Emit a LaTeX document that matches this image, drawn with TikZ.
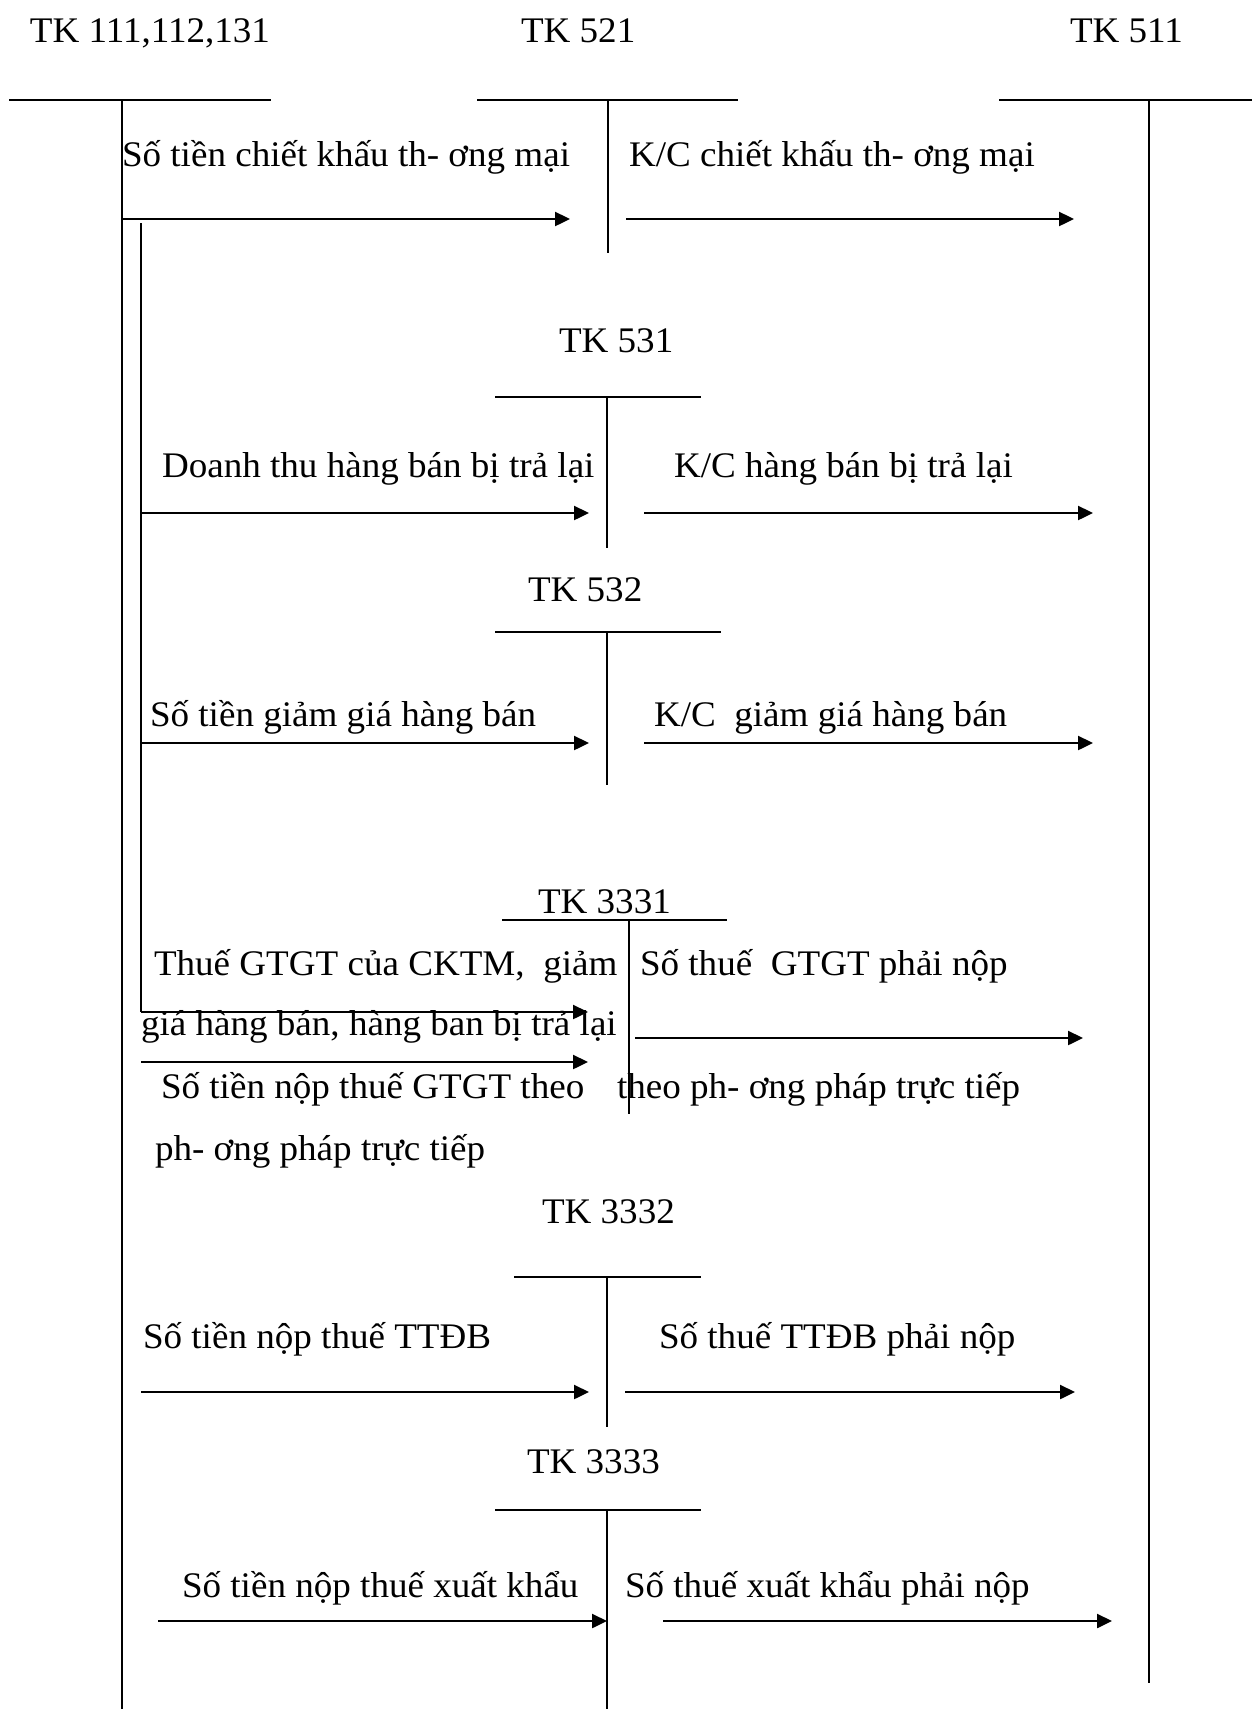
\documentclass[tikz,border=0pt]{standalone}
\usepackage{fontspec}
\setmainfont[FakeStretch=1.03]{Liberation Serif}
\usetikzlibrary{arrows.meta}
\tikzset{
  lbl/.style={anchor=base west, inner sep=0pt, outer sep=0pt, font=\fontsize{36}{40}\selectfont},
  tline/.style={line width=2pt},
  flow/.style={line width=2.4pt, -{Triangle[length=15pt,width=14pt]}}
}
\begin{document}
\begin{tikzpicture}[x=1pt,y=-1pt]
\useasboundingbox (0,0) rectangle (1252,1709);
% titles
\node[lbl] (t111) at (30,42) {TK 111,112,131};
\node[lbl] (t521) at (521,42) {TK 521};
\node[lbl] (t511) at (1070,42) {TK 511};
\node[lbl] (t531) at (559,352) {TK 531};
\node[lbl] (t532) at (528,601) {TK 532};
\node[lbl] (t3331) at (538,913) {TK 3331};
\node[lbl] (t3332) at (542,1223) {TK 3332};
\node[lbl] (t3333) at (527,1473) {TK 3333};
% labels
\node[lbl] (l1) at (122,166) {Số tiền chiết khấu th- ơng mại};
\node[lbl] (r1) at (629,166) {K/C chiết khấu th- ơng mại};
\node[lbl] (l2) at (162,477) {Doanh thu hàng bán bị trả lại};
\node[lbl] (r2) at (674,477) {K/C hàng bán bị trả lại};
\node[lbl] (l3) at (150,726) {Số tiền giảm giá hàng bán};
\node[lbl] (r3) at (654,726) {K/C\ \ giảm giá hàng bán};
\node[lbl] (l4a) at (154,975) {Thuế GTGT của CKTM,\ \ giảm};
\node[lbl] (l4b) at (141,1035) {giá hàng bán, hàng ban bị trả lại};
\node[lbl] (l4c) at (161,1098) {Số tiền nộp thuế GTGT theo};
\node[lbl] (l4d) at (155,1160) {ph- ơng pháp trực tiếp};
\node[lbl] (r4a) at (640,975) {Số thuế\ \ GTGT phải nộp};
\node[lbl] (r4b) at (617,1098) {theo ph- ơng pháp trực tiếp};
\node[lbl] (l5) at (143,1348) {Số tiền nộp thuế TTĐB};
\node[lbl] (r5) at (659,1348) {Số thuế TTĐB phải nộp};
\node[lbl] (l6) at (182,1597) {Số tiền nộp thuế xuất khẩu};
\node[lbl] (r6) at (625,1597) {Số thuế xuất khẩu phải nộp};
% T-account lines
\coordinate (h111a) at (9,100); \coordinate (h111b) at (271,100);
\coordinate (v111a) at (122,100); \coordinate (v111b) at (122,1709);
\coordinate (h521a) at (477,100); \coordinate (h521b) at (738,100);
\coordinate (v521a) at (608,100); \coordinate (v521b) at (608,253);
\coordinate (h511a) at (999,100); \coordinate (h511b) at (1252,100);
\coordinate (v511a) at (1149,100); \coordinate (v511b) at (1149,1683);
\coordinate (h531a) at (495,397); \coordinate (h531b) at (701,397);
\coordinate (v531a) at (607,397); \coordinate (v531b) at (607,548);
\coordinate (h532a) at (495,632); \coordinate (h532b) at (721,632);
\coordinate (v532a) at (607,632); \coordinate (v532b) at (607,785);
\coordinate (h3331a) at (502,920); \coordinate (h3331b) at (727,920);
\coordinate (v3331a) at (629,920); \coordinate (v3331b) at (629,1114);
\coordinate (h3332a) at (514,1277); \coordinate (h3332b) at (701,1277);
\coordinate (v3332a) at (607,1277); \coordinate (v3332b) at (607,1427);
\coordinate (h3333a) at (495,1510); \coordinate (h3333b) at (701,1510);
\coordinate (v3333a) at (607,1510); \coordinate (v3333b) at (607,1709);
\coordinate (inA) at (141,223); \coordinate (inB) at (141,1012);
\foreach \n in {111,521,511,531,532,3331,3332,3333}{
  \draw[tline] (h\n a) -- (h\n b);
  \draw[tline] (v\n a) -- (v\n b);
}
\draw[tline] (inA) -- (inB);
% arrows
\coordinate (a1s) at (122,219); \coordinate (a1e) at (570,219);
\coordinate (a2s) at (626,219); \coordinate (a2e) at (1074,219);
\coordinate (a3s) at (141,513); \coordinate (a3e) at (589,513);
\coordinate (a4s) at (644,513); \coordinate (a4e) at (1093,513);
\coordinate (a5s) at (141,743); \coordinate (a5e) at (589,743);
\coordinate (a6s) at (644,743); \coordinate (a6e) at (1093,743);
\coordinate (a7s) at (141,1012); \coordinate (a7e) at (588,1012);
\coordinate (a8s) at (141,1062); \coordinate (a8e) at (588,1062);
\coordinate (a9s) at (635,1038); \coordinate (a9e) at (1083,1038);
\coordinate (a10s) at (141,1392); \coordinate (a10e) at (589,1392);
\coordinate (a11s) at (625,1392); \coordinate (a11e) at (1075,1392);
\coordinate (a12s) at (158,1621); \coordinate (a12e) at (607,1621);
\coordinate (a13s) at (663,1621); \coordinate (a13e) at (1112,1621);
\foreach \n in {1,...,13}{
  \draw[flow] (a\n s) -- (a\n e);
}
\end{tikzpicture}
\end{document}
